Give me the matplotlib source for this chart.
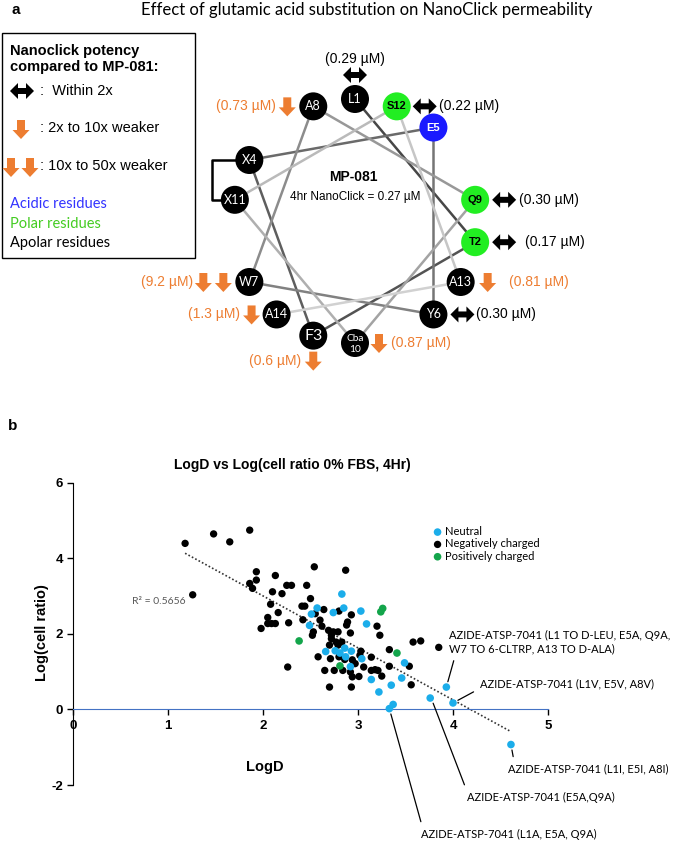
import numpy as np
import matplotlib
matplotlib.use('Agg')
import matplotlib.pyplot as plt
from matplotlib.patches import Circle, Polygon, Rectangle

plt.rcParams['axes.unicode_minus'] = False

# ---------------- Panel a data ----------------
residues = ['L1', 'T2', 'F3', 'X4', 'E5', 'Y6', 'W7', 'A8', 'Q9', 'Cba\n10', 'X11', 'S12', 'A13', 'A14']
residue_class = ['apolar', 'polar', 'apolar', 'apolar', 'acidic', 'apolar', 'apolar',
                 'apolar', 'polar', 'apolar', 'apolar', 'polar', 'apolar', 'apolar']
potency_text = ['0.29', '0.17', '0.6', '', '', '0.30', '9.2', '0.73', '0.30', '0.87', '', '0.22', '0.81', '1.3']
parent_potency = 0.27
panel_a_title = 'Effect of glutamic acid substitution on NanoClick permeability'
legend_title = ['Nanoclick potency', 'compared to MP-081:']
legend_fold_labels = [':  Within 2x', ': 2x to 10x weaker', ': 10x to 50x weaker']
class_labels = ['Acidic residues', 'Polar residues', 'Apolar residues']
center_title = 'MP-081'
center_sub = '4hr NanoClick = 0.27 µM'

# ---------------- Panel b data ----------------
neutral_logd = [2.83, 2.57, 2.74, 2.85, 3.03, 2.51, 3.09, 2.49, 2.86, 2.93, 2.66, 2.76, 2.81,
                2.87, 3.04, 3.49, 2.92, 3.14, 3.46, 3.35, 3.22, 3.37, 3.33, 3.76, 3.93, 4.00, 4.61]
neutral_logcr = [3.05, 2.68, 2.56, 2.68, 2.60, 2.52, 2.26, 2.22, 1.62, 1.54, 1.53, 1.55, 1.49,
                 1.39, 1.34, 1.23, 1.13, 0.79, 0.83, 0.64, 0.46, 0.13, 0.02, 0.30, 0.59, 0.17, -0.93]
negative_logd = [1.18, 1.48, 1.65, 1.86, 1.26, 1.93, 1.93, 2.13, 1.86, 1.89, 2.54, 2.87,
                 2.25, 2.30, 2.46, 2.10, 2.20, 2.50, 2.08, 2.16, 2.41, 2.44, 2.64, 2.80, 2.93,
                 2.55, 2.05, 2.05, 2.09, 2.13, 1.98, 2.27, 2.42, 2.60, 2.62, 2.89, 2.88, 3.20,
                 2.53, 2.52, 2.69, 2.74, 2.79, 2.72, 2.92, 2.72, 2.77, 2.70, 2.79, 2.83,
                 2.80, 2.86, 2.71, 2.58, 3.03, 3.02, 2.94, 2.97, 3.06, 3.14, 3.33, 3.54, 3.58,
                 3.66, 3.85, 2.84, 2.92, 2.94, 3.01, 2.65, 2.75, 3.14, 3.18, 3.21, 3.25, 3.33,
                 3.56, 2.70, 2.93, 2.26, 3.23]
negative_logcr = [4.39, 4.64, 4.43, 4.74, 3.03, 3.64, 3.42, 3.54, 3.33, 3.20, 3.77, 3.68,
                  3.28, 3.28, 3.28, 3.11, 3.06, 2.93, 2.78, 2.56, 2.73, 2.73, 2.64, 2.60, 2.50,
                  2.53, 2.43, 2.27, 2.27, 2.27, 2.14, 2.29, 2.37, 2.36, 2.20, 2.31, 2.23, 2.20,
                  2.05, 1.96, 2.09, 2.05, 2.05, 1.96, 2.02, 1.87, 1.78, 1.70, 1.70, 1.78,
                  1.39, 1.32, 1.34, 1.39, 1.54, 1.43, 1.31, 1.21, 1.12, 1.38, 1.58, 1.14, 1.78,
                  1.81, 1.64, 1.03, 0.99, 0.86, 0.87, 1.03, 1.03, 1.03, 1.05, 1.03, 0.88, 1.14,
                  0.65, 0.59, 0.59, 1.12, 1.96]
positive_logd = [3.26, 3.24, 2.38, 3.41, 2.81]
positive_logcr = [2.67, 2.58, 1.81, 1.49, 1.15]
series_labels = ['Neutral', 'Negatively charged', 'Positively charged']
r2_text = 'R² = 0.5656'
panel_b_title = 'LogD vs Log(cell ratio 0% FBS, 4Hr)'
x_ticks = [0, 1, 2, 3, 4, 5]
y_ticks = [-2, 0, 2, 4, 6]
annot_logd = [3.93, 4.00, 4.61, 3.77, 3.33]
annot_logcr = [0.59, 0.17, -0.93, 0.30, 0.02]
annot_text = ['AZIDE-ATSP-7041 (L1 TO D-LEU, E5A, Q9A,\nW7 TO 6-CLTRP, A13 TO D-ALA)',
              'AZIDE-ATSP-7041 (L1V, E5V, A8V)',
              'AZIDE-ATSP-7041 (L1I, E5I, A8I)',
              'AZIDE-ATSP-7041 (E5A,Q9A)',
              'AZIDE-ATSP-7041 (L1A, E5A, Q9A)']

# ---------------- styles ----------------
ARIAL = 'Liberation Sans'
CALIBRI = 'Lato'
ORANGE = '#ED7D31'
class_color = {'apolar': 'black', 'polar': '#22EE22', 'acidic': '#1A1AFF'}
class_text_color = {'apolar': 'black', 'polar': '#44CC22', 'acidic': '#3333FF'}

W, H = 675, 842
fig = plt.figure(figsize=(W / 100, H / 100), dpi=100)
ax0 = fig.add_axes([0, 0, 1, 1])
ax0.set_xlim(0, W)
ax0.set_ylim(H, 0)
ax0.axis('off')


def down_arrow(cx, cy, scale=1.0):
    sw, hw, top, neck, tip = 4 * scale, 8.5 * scale, -9 * scale, 1 * scale, 10 * scale
    pts = [(cx - sw, cy + top), (cx + sw, cy + top), (cx + sw, cy + neck), (cx + hw, cy + neck),
           (cx, cy + tip), (cx - hw, cy + neck), (cx - sw, cy + neck)]
    ax0.add_patch(Polygon(pts, closed=True, fc=ORANGE, ec='none', zorder=5))


def double_arrow(cx, cy):
    hl, hh, sh, half = 8, 8, 3, 12
    pts = [(cx - half, cy), (cx - half + hl, cy - hh), (cx - half + hl, cy - sh),
           (cx + half - hl, cy - sh), (cx + half - hl, cy - hh), (cx + half, cy),
           (cx + half - hl, cy + hh), (cx + half - hl, cy + sh), (cx - half + hl, cy + sh),
           (cx - half + hl, cy + hh)]
    ax0.add_patch(Polygon(pts, closed=True, fc='black', ec='none', zorder=5))


# ---- panel labels and title ----
ax0.text(12, 10, 'a', fontsize=11, fontweight='bold', family=ARIAL, va='center', ha='left')
ax0.text(367, 10, panel_a_title, fontsize=12, family=CALIBRI, va='center', ha='center')
ax0.text(8, 426, 'b', fontsize=11, fontweight='bold', family=ARIAL, va='center', ha='left')

# ---- helical wheel ----
cx0, cy0, R = 355, 221, 122
n = len(residues)
ang = np.deg2rad(100.0 * np.arange(n))
px = cx0 + R * np.sin(ang)
py = cy0 - R * np.cos(ang)
greys = np.linspace(0.28, 0.82, n - 1)
for i in range(n - 1):
    ax0.plot([px[i], px[i + 1]], [py[i], py[i + 1]], color=str(greys[i]), lw=1.8, zorder=2,
             solid_capstyle='butt')

# staple bracket X4 - X11
i4, i11 = 3, 10
ax0.plot([px[i4] - 13, 212, 212, px[i11] - 13], [py[i4], py[i4], py[i11], py[i11]],
         color='black', lw=1.8, zorder=1)

for i, name in enumerate(residues):
    cls = residue_class[i]
    ax0.add_patch(Circle((px[i], py[i]), 14, fc=class_color[cls], ec='none', zorder=4))
    if cls == 'polar':
        ax0.text(px[i], py[i], name, fontsize=8, fontweight='bold', family=ARIAL, color='black',
                 ha='center', va='center', zorder=6)
    elif cls == 'acidic':
        ax0.text(px[i], py[i], name, fontsize=8, fontweight='bold', family=ARIAL, color='white',
                 ha='center', va='center', zorder=6)
    elif '\n' in name:
        ax0.text(px[i], py[i] + 1, name, fontsize=7.3, family=CALIBRI, color='white',
                 ha='center', va='center', linespacing=1.3, zorder=6)
    elif name == 'F3':
        ax0.text(px[i], py[i], name, fontsize=11.5, family=CALIBRI, color='white',
                 ha='center', va='center', zorder=6)
    else:
        ax0.text(px[i], py[i], name, fontsize=9, family=CALIBRI, color='white',
                 ha='center', va='center', zorder=6)

ax0.text(353, 177, center_title, fontsize=10, fontweight='bold', family=ARIAL, ha='center', va='center')
ax0.text(355, 197, center_sub, fontsize=8.5, family=ARIAL, ha='center', va='center')

# label placement: (arrow dx list, arrow dy, text dx, text dy, ha)
placement = {
    0: ([0], -24, 0, -40, 'center'),
    1: ([29], 0, 50, 0, 'left'),
    2: ([0], 25, -12, 25, 'right'),
    5: ([29], 0, 43, 0, 'left'),
    6: ([-26, -46], 0, -56, 0, 'right'),
    7: ([-26], 0, -37, 0, 'right'),
    8: ([29], 0, 44, 0, 'left'),
    9: ([24], 0, 36, 0, 'left'),
    11: ([28], 0, 42, 0, 'left'),
    12: ([27], 0, 48, 0, 'left'),
    13: ([-25], 0, -37, 0, 'right'),
}
for i, txt in enumerate(potency_text):
    if not txt:
        continue
    fold = float(txt) / parent_potency
    n_arrows = 0 if fold < 2 else (1 if fold < 10 else 2)
    adx, ady, tdx, tdy, ha = placement[i]
    color = 'black' if n_arrows == 0 else ORANGE
    if n_arrows == 0:
        double_arrow(px[i] + adx[0], py[i] + ady)
    else:
        for k in range(n_arrows):
            down_arrow(px[i] + adx[k], py[i] + ady)
    ax0.text(px[i] + tdx, py[i] + tdy, '(%s µM)' % txt, fontsize=10, family=ARIAL, color=color,
             ha=ha, va='center')

# ---- legend box ----
ax0.add_patch(Rectangle((2, 33), 193, 225, fc='white', ec='black', lw=1.0, zorder=0.5))
ax0.text(10, 51, legend_title[0], fontsize=10.5, fontweight='bold', family=ARIAL, va='center')
ax0.text(10, 67, legend_title[1], fontsize=10.5, fontweight='bold', family=ARIAL, va='center')
double_arrow(22, 91)
ax0.text(40, 91, legend_fold_labels[0], fontsize=10.5, family=ARIAL, va='center')
down_arrow(21, 129, 1.0)
ax0.text(40, 128, legend_fold_labels[1], fontsize=10.5, family=ARIAL, va='center')
down_arrow(11, 167, 1.0)
down_arrow(30, 167, 1.0)
ax0.text(40, 166, legend_fold_labels[2], fontsize=10.5, family=ARIAL, va='center')
for k, (lab, cls) in enumerate(zip(class_labels, ['acidic', 'polar', 'apolar'])):
    ax0.text(10, 204 + 19.5 * k, lab, fontsize=10.5, family=CALIBRI, color=class_text_color[cls],
             va='center')

# ---------------- Panel b ----------------
x0_px, x5_px, ytop_px, ybot_px = 73, 548, 482.5, 785
ax = fig.add_axes([x0_px / W, (H - ybot_px) / H, (x5_px - x0_px) / W, (ybot_px - ytop_px) / H])
ax.set_xlim(0, 5)
ax.set_ylim(-2, 6)
ax.patch.set_alpha(0)

ax.scatter(negative_logd, negative_logcr, s=28, c='black', edgecolors='none', zorder=3,
           label=series_labels[1])
ax.scatter(neutral_logd, neutral_logcr, s=30, c='#1BADEA', edgecolors='none', zorder=4,
           label=series_labels[0])
ax.scatter(positive_logd, positive_logcr, s=30, c='#13A54B', edgecolors='none', zorder=4,
           label=series_labels[2])

all_x = np.array(neutral_logd + negative_logd + positive_logd)
all_y = np.array(neutral_logcr + negative_logcr + positive_logcr)
coef = np.polyfit(all_x, all_y, 1)
xs = np.array([all_x.min(), all_x.max()])
ax.plot(xs, np.polyval(coef, xs), color='#333333', lw=1.2, ls=(0, (1, 1.3)), zorder=2)

for s in ['top', 'right']:
    ax.spines[s].set_visible(False)
ax.spines['bottom'].set_position(('data', 0))
ax.spines['bottom'].set_color('#4472C4')
ax.spines['left'].set_color('black')
ax.set_xticks(x_ticks)
ax.set_yticks(y_ticks)
ax.tick_params(axis='x', colors='black', length=4, width=1, pad=4, labelsize=9.5)
ax.tick_params(axis='y', colors='black', length=4, width=1, pad=3, labelsize=9.5)
for lab in ax.get_xticklabels() + ax.get_yticklabels():
    lab.set_fontweight('bold')
    lab.set_family(ARIAL)

ax0.text(292, 465, panel_b_title, fontsize=10, fontweight='bold', family=ARIAL, ha='center', va='center')
ax0.text(265, 767, 'LogD', fontsize=10.5, fontweight='bold', family=ARIAL, ha='center', va='center')
ax0.text(42, 633, 'Log(cell ratio)', fontsize=10.5, fontweight='bold', family=ARIAL, ha='center',
         va='center', rotation=90)
ax0.text(159, 601, r2_text, fontsize=7.5, family=CALIBRI, color='#595959', ha='center', va='center')

h = ax.get_legend_handles_labels()
hd = dict(zip(h[1], h[0]))
ax.legend([hd[l] for l in series_labels], series_labels, loc='upper left',
          bbox_to_anchor=(432 / W, 1 - 526 / H), bbox_transform=fig.transFigure, frameon=False,
          prop={'family': CALIBRI, 'size': 8}, handletextpad=0.2, labelspacing=0.12,
          borderpad=0, handlelength=1.0, borderaxespad=0)

# annotations: text position (px, from top-left) and line attach point on the text box
annot_layout = [((449, 642), (0.03, 0.0)),
                ((480, 684), (0.0, 0.1)),
                ((508, 769), (0.04, 1.0)),
                ((467, 797), (0.0, 1.0)),
                ((421, 834), (0.01, 1.0))]
for k, txt in enumerate(annot_text):
    (tx, ty), rp = annot_layout[k]
    ax.annotate(txt, xy=(annot_logd[k], annot_logcr[k]), xycoords='data',
                xytext=(tx, ty), textcoords=ax0.transData, ha='left', va='center',
                fontsize=8.0, family=CALIBRI, annotation_clip=False, linespacing=1.2,
                arrowprops=dict(arrowstyle='-', color='black', lw=0.9, shrinkA=3, shrinkB=4,
                                relpos=rp))

fig.savefig('out.png', dpi=100)
